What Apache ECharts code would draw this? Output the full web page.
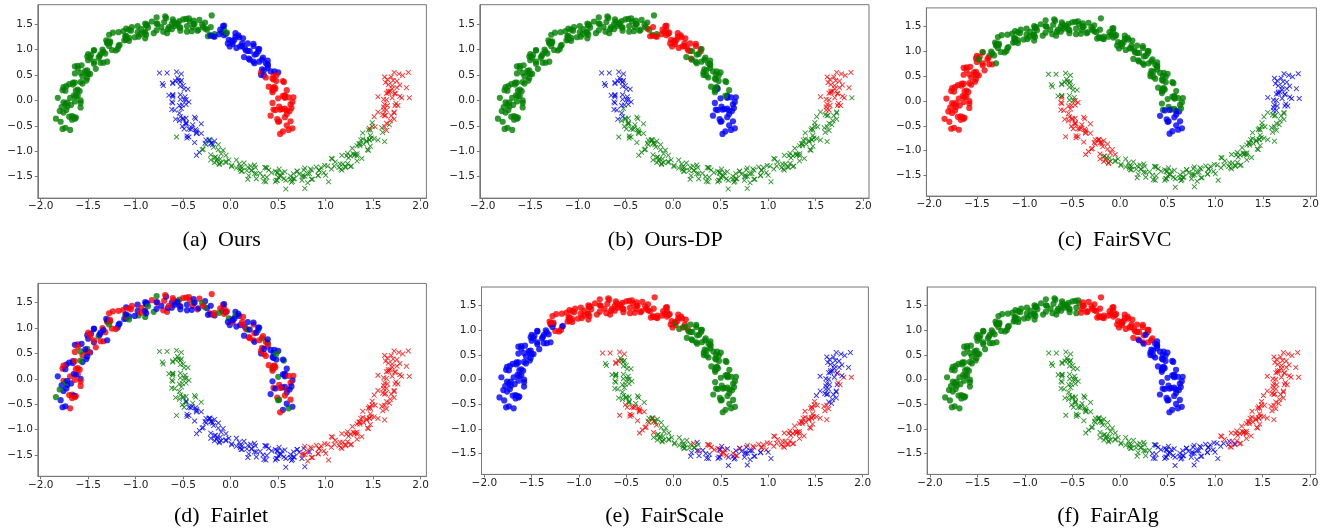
<!DOCTYPE html>
<html>
<head>
<meta charset="utf-8">
<script src="https://cdn.jsdelivr.net/npm/echarts@6/dist/echarts.min.js"></script>
<style>
  html, body { margin: 0; padding: 0; background: #fff; }
  #chart { width: 1328px; height: 531px; }
</style>
</head>
<body>
<div id="chart"></div>
<script>
// two moons, same points in every panel; only the cluster colours change
// upper moon (circles), listed along the arc from the left tip to the right tip
const upperMoon = [
  [-1.69,-0.58],[-1.79,-0.42],[-1.67,-0.31],[-1.74,-0.54],[-1.63,-0.34],
  [-1.76,-0.24],[-1.70,-0.32],[-1.84,-0.36],[-1.65,-0.33],[-1.76,-0.04],
  [-1.68,-0.09],[-1.78,-0.13],[-1.58,-0.14],[-1.69,0.05],[-1.72,-0.12],
  [-1.61,0.09],[-1.74,-0.07],[-1.63,0.08],[-1.77,0.20],[-1.58,0.00],[-1.82,0.05],
  [-1.66,0.31],[-1.59,0.18],[-1.73,0.28],[-1.61,0.21],[-1.66,0.35],
  [-1.56,0.47],[-1.70,0.32],[-1.56,0.33],[-1.58,0.54],[-1.64,0.35],
  [-1.48,0.52],[-1.61,0.68],[-1.50,0.52],[-1.64,0.67],[-1.51,0.59],
  [-1.44,0.72],[-1.52,0.54],[-1.57,0.69],[-1.42,0.62],[-1.47,0.89],
  [-1.34,0.74],[-1.51,0.86],[-1.39,0.84],[-1.44,0.76],[-1.44,0.98],
  [-1.30,0.76],[-1.35,1.00],[-1.44,0.99],[-1.32,0.92],[-1.27,1.13],
  [-1.37,0.91],[-1.29,1.15],[-1.25,0.99],[-1.30,1.14],[-1.19,1.01],
  [-1.28,1.29],[-1.12,1.18],[-1.30,1.12],[-1.11,1.26],[-1.18,1.07],
  [-1.10,1.19],[-1.24,1.33],[-1.10,1.23],[-1.10,1.41],[-0.97,1.25],
  [-1.13,1.36],[-1.07,1.23],[-0.98,1.34],[-1.04,1.44],[-0.90,1.22],
  [-1.05,1.37],[-0.90,1.51],[-0.91,1.33],[-0.89,1.47],[-0.95,1.30],
  [-0.81,1.32],[-0.89,1.48],[-0.83,1.55],[-0.78,1.38],[-0.88,1.49],
  [-0.70,1.54],[-0.67,1.32],[-0.78,1.63],[-0.62,1.50],[-0.71,1.35],
  [-0.68,1.62],[-0.54,1.44],[-0.73,1.44],[-0.57,1.50],[-0.62,1.40],
  [-0.61,1.59],[-0.53,1.43],[-0.60,1.55],[-0.46,1.46],[-0.44,1.61],
  [-0.53,1.37],[-0.43,1.55],[-0.54,1.56],[-0.35,1.37],[-0.39,1.57],
  [-0.34,1.39],[-0.39,1.50],[-0.27,1.53],[-0.40,1.44],[-0.22,1.29],
  [-0.33,1.58],[-0.25,1.39],[-0.20,1.67],[-0.24,1.26],[-0.09,1.34],
  [-0.27,1.41],[-0.07,1.39],[-0.17,1.25],[-0.08,1.46],[-0.21,1.27],
  [-0.05,1.31],[-0.11,1.39],[0.01,1.17],[-0.02,1.19],[0.05,1.32],
  [-0.07,1.28],[0.10,1.06],[0.05,1.25],[-0.01,1.06],[0.12,1.12],
  [0.09,1.24],[0.02,1.11],[0.15,1.02],[0.02,1.15],[0.24,1.07],
  [0.12,1.07],[0.29,0.96],[0.18,1.12],[0.19,0.82],[0.29,1.01],
  [0.14,0.85],[0.30,1.01],[0.24,0.76],[0.33,0.80],[0.25,0.90],
  [0.39,0.64],[0.27,0.91],[0.37,0.73],[0.25,0.73],[0.42,0.57],
  [0.39,0.71],[0.32,0.50],[0.39,0.69],[0.33,0.61],[0.50,0.55],
  [0.44,0.43],[0.32,0.55],[0.45,0.41],[0.56,0.36],[0.45,0.51],
  [0.45,0.21],[0.55,0.38],[0.40,0.27],[0.57,0.10],[0.46,0.26],
  [0.57,0.07],[0.44,0.20],[0.57,0.08],[0.47,0.23],[0.57,0.05],[0.66,0.06],
  [0.65,-0.03],[0.51,-0.12],[0.50,0.04],[0.57,-0.16],[0.45,-0.18],
  [0.63,-0.08],[0.59,-0.27],[0.47,-0.19],[0.59,-0.20],[0.51,-0.41],
  [0.62,-0.21],[0.49,-0.37],[0.65,-0.55],[0.57,-0.33],[0.55,-0.61],[0.52,-0.66],[0.61,-0.58],[0.42,-0.30]
];
// more upper-moon points, same direction along the arc
const upperMoonB = [
  [-1.77,-0.56],[-1.64,-0.36],[-1.73,-0.19],[-1.67,-0.38],[-1.80,-0.21],
  [-1.64,-0.02],[-1.72,-0.04],[-1.58,-0.05],[-1.74,0.19],[-1.65,0.10],
  [-1.76,0.26],[-1.58,0.36],[-1.63,0.19],[-1.52,0.39],[-1.64,0.53],
  [-1.51,0.44],[-1.61,0.63],[-1.50,0.79],[-1.53,0.58],[-1.37,0.74],
  [-1.50,0.91],[-1.38,0.87],[-1.48,0.84],[-1.28,1.07],[-1.34,0.96],
  [-1.17,1.09],[-1.31,1.18],[-1.21,0.98],[-1.27,1.16],[-1.10,1.27],
  [-1.18,1.34],[-1.01,1.24],[-1.07,1.17],[-0.98,1.46],[-1.07,1.39],
  [-0.89,1.29],[-0.94,1.40],[-0.77,1.50],[-0.90,1.34],[-0.78,1.51],
  [-0.87,1.43],[-0.66,1.40],[-0.69,1.65],[-0.56,1.52],[-0.65,1.44],
  [-0.50,1.59],[-0.59,1.46],[-0.46,1.35],[-0.47,1.60],[-0.30,1.49],
  [-0.41,1.36],[-0.29,1.44],[-0.38,1.50],[-0.17,1.30],[-0.21,1.44],
  [-0.04,1.33],[-0.18,1.26],[-0.07,1.47],[-0.12,1.30],[0.04,1.19],
  [-0.03,1.12],[0.13,1.22],[0.08,1.28],[0.16,0.98],[0.06,1.03],
  [0.24,1.11],[0.18,0.97],[0.34,0.84],[0.20,0.97],[0.30,0.76],
  [0.20,0.80],[0.39,0.78],[0.35,0.49],[0.46,0.57],[0.35,0.59],
  [0.48,0.38],[0.37,0.45],[0.48,0.49],[0.44,0.16],[0.59,0.20],
  [0.45,0.25],[0.55,0.09],[0.44,-0.05],[0.61,0.06],[0.54,-0.17],
  [0.64,-0.15],[0.52,-0.18],[0.59,-0.49],[0.50,-0.42],[0.63,-0.41]
];

// lower moon (crosses), from the left tip down round to the right tip; last one is a stray point
const lowerMoon = [
  [-0.57,0.56],[-0.56,0.44],[-0.52,0.39],[-0.52,0.52],[-0.53,0.36],[-0.75,0.54],[-0.72,0.33],[-0.71,0.29],
  [-0.55,0.39],[-0.61,0.33],[-0.61,0.35],[-0.48,0.07],[-0.53,0.11],
  [-0.49,0.22],[-0.49,0.01],[-0.53,0.02],[-0.61,0.10],[-0.65,0.10],
  [-0.62,-0.03],[-0.44,-0.03],[-0.61,-0.05],[-0.62,-0.18],[-0.54,-0.25],
  [-0.53,-0.32],[-0.51,-0.09],[-0.54,-0.10],[-0.54,-0.40],[-0.37,-0.36],[-0.58,-0.37],
  [-0.47,-0.45],[-0.47,-0.35],[-0.50,-0.37],[-0.49,-0.56],[-0.47,-0.47],
  [-0.44,-0.56],[-0.37,-0.57],[-0.36,-0.65],[-0.47,-0.44],[-0.41,-0.54],
  [-0.44,-0.72],[-0.42,-0.57],[-0.36,-0.63],[-0.26,-0.78],[-0.21,-0.84],
  [-0.23,-0.78],[-0.38,-0.83],[-0.19,-0.87],[-0.17,-0.80],[-0.22,-0.79],[-0.36,-1.08],[-0.33,-1.02],
  [-0.22,-0.77],[-0.21,-1.07],[-0.16,-1.11],[-0.13,-0.87],[-0.29,-0.96],
  [-0.05,-1.08],[-0.21,-1.17],[-0.18,-0.92],[-0.13,-0.97],[-0.12,-1.26],
  [-0.12,-1.24],[-0.17,-1.22],[-0.14,-1.15],[0.06,-1.17],[-0.10,-1.22],
  [-0.11,-1.15],[-0.05,-1.20],[0.06,-1.33],[0.11,-1.39],[0.14,-1.23],
  [0.12,-1.39],[0.19,-1.48],[0.09,-1.25],[0.10,-1.31],[0.18,-1.31],
  [0.22,-1.38],[0.25,-1.27],[0.27,-1.44],[0.25,-1.44],[0.26,-1.32],
  [0.17,-1.38],[0.36,-1.32],[0.37,-1.60],[0.35,-1.59],[0.37,-1.32],
  [0.40,-1.37],[0.49,-1.41],[0.50,-1.51],[0.34,-1.50],[0.53,-1.48],
  [0.58,-1.57],[0.56,-1.54],[0.49,-1.43],[0.47,-1.39],[0.48,-1.57],[0.58,-1.74],[0.78,-1.73],
  [0.54,-1.42],[0.51,-1.35],[0.65,-1.59],[0.67,-1.54],[0.63,-1.55],
  [0.63,-1.49],[0.64,-1.61],[0.66,-1.44],[0.72,-1.45],[0.75,-1.57],
  [0.77,-1.37],[0.78,-1.49],[0.76,-1.50],[0.78,-1.33],[0.81,-1.44],
  [0.85,-1.37],[0.93,-1.38],[0.95,-1.32],[0.85,-1.55],[0.92,-1.47],
  [0.90,-1.31],[0.92,-1.48],[0.98,-1.42],[1.09,-1.29],[1.15,-1.25],[1.03,-1.60],
  [1.14,-1.32],[0.99,-1.28],[1.18,-1.25],[1.21,-1.32],[1.16,-1.35],
  [1.17,-1.37],[1.17,-1.08],[1.23,-1.04],[1.26,-1.30],[1.10,-1.21],
  [1.23,-1.24],[1.26,-1.09],[1.31,-1.06],[1.33,-1.19],[1.33,-1.05],
  [1.33,-1.09],[1.29,-1.05],[1.30,-1.08],[1.43,-0.81],[1.40,-0.86],
  [1.45,-0.98],[1.46,-0.78],[1.43,-0.79],[1.36,-0.89],[1.33,-0.89],
  [1.37,-0.78],[1.55,-0.78],[1.39,-0.76],[1.39,-0.64],[1.47,-0.58],[1.62,-0.81],
  [1.49,-0.51],[1.51,-0.75],[1.48,-0.74],[1.49,-0.44],[1.67,-0.48],
  [1.46,-0.55],[1.64,-0.59],[1.63,-0.29],[1.60,-0.28],[1.62,-0.52],
  [1.64,-0.45],[1.72,-0.37],[1.72,-0.25],[1.55,-0.23],[1.72,-0.23],
  [1.76,-0.10],[1.73,-0.10],[1.64,-0.19],[1.61,-0.19],[1.61,0.02],
  [1.65,-0.10],[1.61,-0.13],[1.73,0.14],[1.73,0.13],[1.68,0.18],[1.88,0.05],[1.80,0.05],
  [1.66,0.15],[1.66,0.31],[1.66,0.18],[1.70,0.23],[1.71,0.39],[1.85,0.25],[1.55,0.07],
  [1.75,0.25],[1.65,0.41],[1.77,0.52],[1.70,0.29],[1.81,0.49],[1.87,0.55],[1.72,0.55],[1.62,0.46],
  [-0.57,-0.72]
];
// more lower-moon points, same direction along the arc
const lowerMoonB = [
  [-0.67,0.54],[-0.50,0.29],[-0.58,0.38],[-0.45,0.22],[-0.61,0.11],
  [-0.53,0.28],[-0.61,0.07],[-0.47,-0.08],[-0.47,0.01],[-0.59,-0.19],
  [-0.50,-0.35],[-0.52,-0.16],[-0.38,-0.33],[-0.51,-0.51],[-0.40,-0.48],
  [-0.31,-0.46],[-0.46,-0.70],[-0.36,-0.60],[-0.46,-0.74],[-0.27,-0.84],
  [-0.31,-0.65],[-0.20,-0.84],[-0.30,-0.97],[-0.26,-0.87],[-0.10,-1.05],
  [-0.15,-1.19],[-0.08,-0.98],[-0.17,-1.12],[0.01,-1.28],[-0.05,-1.22],
  [0.12,-1.32],[-0.02,-1.17],[0.10,-1.36],[0.01,-1.30],[0.21,-1.29],
  [0.18,-1.55],[0.31,-1.43],[0.22,-1.37],[0.27,-1.54],[0.43,-1.42],
  [0.38,-1.33],[0.47,-1.60],[0.38,-1.51],[0.57,-1.40],[0.52,-1.49],
  [0.49,-1.57],[0.70,-1.39],[0.66,-1.54],[0.83,-1.44],[0.70,-1.39],
  [0.81,-1.62],[0.76,-1.47],[0.93,-1.37],[0.86,-1.55],[0.84,-1.35],
  [1.00,-1.47],[1.06,-1.35],[1.02,-1.29],[1.21,-1.30],[1.07,-1.15],
  [1.06,-1.14],[1.27,-1.29],[1.22,-1.09],[1.38,-1.14],[1.24,-1.13],
  [1.35,-0.85],[1.28,-0.94],[1.44,-0.97],[1.46,-0.77],[1.36,-0.85],
  [1.47,-0.90],[1.45,-0.58],[1.60,-0.63],[1.47,-0.69],[1.59,-0.54],
  [1.68,-0.40],[1.52,-0.52],[1.62,-0.30],[1.51,-0.32],[1.69,-0.30],
  [1.64,0.01],[1.74,-0.06],[1.62,-0.08],[1.64,0.14],[1.78,0.08],
  [1.70,0.05],[1.75,0.38],[1.63,0.35],[1.78,0.30],[1.69,0.46]
];

const panelTitles = ['(a)\u2002Ours', '(b)\u2002Ours-DP', '(c)\u2002FairSVC',
                     '(d)\u2002Fairlet', '(e)\u2002FairScale', '(f)\u2002FairAlg'];
const xTicks = [-2, -1.5, -1, -0.5, 0, 0.5, 1, 1.5, 2];
const yTicks = [-1.5, -1, -0.5, 0, 0.5, 1, 1.5];

// cluster of each point: runs of [colour, count] in list order, or one letter per point
const upperOurs      = [['g',113],['b',38],['r',34]];
const upperOursDP    = [['g',109],['r',27],['g',27],['b',22]];
const upperFairSVC   = [['r',46],['g',127],['b',12]];
const upperFairlet   = ['rbrbr','brgbr','bbrrb','rgbrbb','brbrb','rbbgr','brrbg','brbrb','rbgrb',
                        'brbrr','bgrbb','rbrgb','brrbg','rbbrg','rbrbr','gbrbb','rrgbr','brbgb',
                        'rbrbr','brgrb','bgbrr','rbrbb','grbrb','brrgb','rbgbr','brbbr','rgbrb',
                        'bbrgr','rbrbb','gbrrb','brbgb','rbrbr','bgbrbr','brgbr','rbbrg','brbrbrgb'];
const upperFairScale = [['b',52],['r',77],['g',56]];
const upperFairAlg   = [['g',99],['r',42],['b',44]];

const upperOursB      = [['g',56],['b',19],['r',15]];
const upperOursDPB    = [['g',54],['r',13],['g',15],['b',8]];
const upperFairSVCB   = [['r',22],['g',64],['b',4]];
const upperFairletB   = ['brbrg','rbrbb','rgrbr','brbbr','rbrgb','bbrrb','rbgbr','brrbb','gbrbr',
                         'rbbrg','brbrb','rrbgb','brbrb','bgrbr','rbrbb','brgrb','rbbrb','brbgr'];
const upperFairScaleB = [['b',26],['r',37],['g',27]];
const upperFairAlgB   = [['g',49],['r',21],['b',20]];

const lowerOurs      = [['b',51],['g',109],['r',37],['g',1]];
const lowerOursDP    = [['b',26],['g',2],['b',1],['g',141],['r',10],['g',1],['r',16],['g',1]];
const lowerFairSVC   = [['g',18],['r',45],['g',107],['b',27],['r',1]];
const lowerFairlet   = [['g',34],['b',75],['r',88],['g',1]];
const lowerFairScale = ['rggrgrgg','grrgg','ggggg','ggggg','gggggg','gggrg','rrrgr','rrrgr','grggrrr',
                        'grggr','ggrgg','ggggg','ggggg','gbggg','gbrbg','grbbr','rbrbr','brbrbbb',
                        'rbbrb','rbbbb','bbbrb','rrrbb','rbrrrb','rrrrr','rrrrr','rrrrr','rrrrr',
                        'rrrrr','rrrrrr','rrrrb','rrbbr','bbbbb','rbbbb','bbrbbrr','bbbbbbb','bbbbbbbb','r'];
const lowerFairAlg   = [['g',83],['b',43],['r',71],['g',1]];

const lowerOursB      = [['b',22],['g',53],['r',15]];
const lowerOursDPB    = [['b',10],['g',70],['r',10]];
const lowerFairSVCB   = [['g',6],['r',21],['g',53],['b',10]];
const lowerFairletB   = [['g',16],['b',34],['r',40]];
const lowerFairScaleB = ['rgrgg','ggggg','gggrg','grrrg','rgrrg','ggggg','ggggr','bbgbr','rbbbr',
                         'bbrbr','bbrbr','brrrr','rrrrr','rrrrr','rrrrr','brbbb','brbbb','bbbbb'];
const lowerFairAlgB   = [['g',39],['b',20],['r',31]];

const upperLabels  = [upperOurs, upperOursDP, upperFairSVC, upperFairlet, upperFairScale, upperFairAlg];
const upperLabelsB = [upperOursB, upperOursDPB, upperFairSVCB, upperFairletB, upperFairScaleB, upperFairAlgB];
const lowerLabels  = [lowerOurs, lowerOursDP, lowerFairSVC, lowerFairlet, lowerFairScale, lowerFairAlg];
const lowerLabelsB = [lowerOursB, lowerOursDPB, lowerFairSVCB, lowerFairletB, lowerFairScaleB, lowerFairAlgB];

const COLORS = { g: '#008000', b: '#0000ff', r: '#ff0000' };
const CROSS = 'path://M0,1.2L1.2,0L5,3.8L8.8,0L10,1.2L6.2,5L10,8.8L8.8,10L5,6.2L1.2,10L0,8.8L3.8,5Z';

// plot boxes [left, top, right, bottom] and caption centres
const boxes = [
  [37.85, 4.7, 426.4, 198.1], [479.85, 4.7, 869.0, 198.1], [926.4, 7.9, 1316.4, 196.1],
  [37.85, 283.4, 426.4, 476.3], [481.5, 287.0, 868.4, 474.4], [927.15, 287.0, 1315.7, 474.4]
];
const captionPos = [[221.7, 240], [665.3, 240], [1114.5, 240], [221, 516], [664.5, 516], [1108, 516]];

function expand(spec, n) {
  let out = [];
  if (typeof spec[0] === 'string') {
    out = spec.join('').split('');
  } else {
    spec.forEach(([c, k]) => { for (let i = 0; i < k; i++) out.push(c); });
  }
  if (out.length !== n) console.warn('label count', out.length, n);
  while (out.length < n) out.push(out[out.length - 1]);
  return out;
}

function fmt(v) {
  return v.toFixed(1).replace('-', '\u2212');
}

const chart = echarts.init(document.getElementById('chart'), null, { renderer: 'canvas' });

const grid = [], xAxis = [], yAxis = [], series = [], graphic = [];
const axisColor = '#777';
const labelStyle = { fontFamily: 'DejaVu Sans', fontSize: 10.5, color: '#222' };

const upperAll = upperMoon.concat(upperMoonB);
const lowerAll = lowerMoon.concat(lowerMoonB);

boxes.forEach((b, p) => {
  grid.push({
    left: b[0], top: b[1], width: b[2] - b[0], height: b[3] - b[1],
    show: true, borderColor: axisColor, borderWidth: 1, backgroundColor: '#fff'
  });
  xAxis.push({
    type: 'value', gridIndex: p, min: -2.03, max: 2.06,
    axisLine: { show: true, onZero: false, lineStyle: { color: axisColor, width: 1 } },
    axisTick: { show: true, length: 3, lineStyle: { color: axisColor }, customValues: xTicks },
    axisLabel: Object.assign({ customValues: xTicks, formatter: fmt, margin: 3 }, labelStyle),
    splitLine: { show: false }
  });
  yAxis.push({
    type: 'value', gridIndex: p, min: -1.92, max: 1.88,
    axisLine: { show: true, onZero: false, lineStyle: { color: axisColor, width: 1 } },
    axisTick: { show: true, length: 3, lineStyle: { color: axisColor }, customValues: yTicks },
    axisLabel: Object.assign({ customValues: yTicks, formatter: fmt, margin: 5 }, labelStyle),
    splitLine: { show: false }
  });

  const up = expand(upperLabels[p], upperMoon.length)
    .concat(expand(upperLabelsB[p], upperMoonB.length));
  const lo = expand(lowerLabels[p], lowerMoon.length)
    .concat(expand(lowerLabelsB[p], lowerMoonB.length));

  series.push({
    type: 'scatter', xAxisIndex: p, yAxisIndex: p,
    symbol: 'circle', symbolSize: 6.2, silent: true,
    data: upperAll.map((pt, i) => ({ value: pt, itemStyle: { color: COLORS[up[i]] } }))
  });
  series.push({
    type: 'scatter', xAxisIndex: p, yAxisIndex: p,
    symbol: CROSS, symbolSize: 5.5, silent: true,
    data: lowerAll.map((pt, i) => ({ value: pt, itemStyle: { color: COLORS[lo[i]] } }))
  });

  graphic.push({
    type: 'text', x: captionPos[p][0], y: captionPos[p][1],
    style: {
      text: panelTitles[p], fill: '#000',
      font: '22px "Liberation Serif", "Times New Roman", serif',
      textAlign: 'center', textVerticalAlign: 'middle'
    }
  });
});

chart.setOption({
  animation: false,
  backgroundColor: '#fff',
  grid, xAxis, yAxis, series, graphic
});
</script>
</body>
</html>
